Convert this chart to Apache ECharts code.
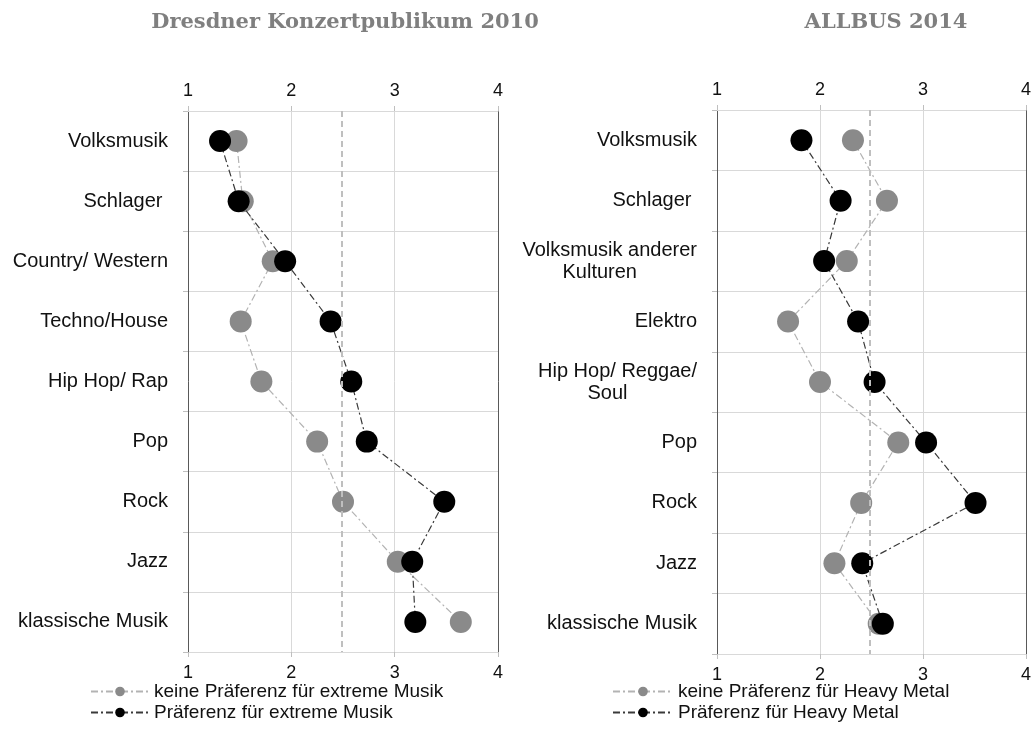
<!DOCTYPE html>
<html>
<head>
<meta charset="utf-8">
<script src="https://cdn.jsdelivr.net/npm/echarts@6/dist/echarts.min.js"></script>
<style>
html,body{margin:0;padding:0;background:#fff;}
#chart{width:1034px;height:731px;}
</style>
</head>
<body>
<div id="chart"></div>
<script>
// ---- data ----
const titleLeft = 'Dresdner Konzertpublikum 2010';
const titleRight = 'ALLBUS 2014';
const catsLeft = ['Volksmusik', 'Schlager ', 'Country/ Western', 'Techno/House', 'Hip Hop/ Rap', 'Pop', 'Rock', 'Jazz', 'klassische Musik'];
const leftNoPref = [1.47, 1.53, 1.82, 1.51, 1.71, 2.25, 2.50, 3.03, 3.64];
const leftPref = [1.31, 1.49, 1.94, 2.38, 2.58, 2.73, 3.48, 3.17, 3.20];
const catsRight = ['Volksmusik', 'Schlager ', 'Volksmusik anderer\nKulturen', 'Elektro', 'Hip Hop/ Reggae/\nSoul', 'Pop', 'Rock', 'Jazz', 'klassische Musik'];
const rightNoPref = [2.32, 2.65, 2.26, 1.69, 2.00, 2.76, 2.40, 2.14, 2.57];
const rightPref = [1.82, 2.20, 2.04, 2.37, 2.53, 3.03, 3.51, 2.41, 2.61];
const nameLeftNo = 'keine Präferenz für extreme Musik';
const nameLeftYes = 'Präferenz für extreme Musik';
const nameRightNo = 'keine Präferenz für Heavy Metal';
const nameRightYes = 'Präferenz für Heavy Metal';
const xMin = 1, xMax = 4, xStep = 1;
const refLeft = 2.49;
const refRight = 2.48;

// ---- styles ----
const FONT = 'Liberation Sans, Arial, sans-serif';
const GRID_C = '#d9d9d9';
const BORDER_C = '#595959';
const GRAY_M = '#8a8a8a';
const GRAY_L = '#b3b3b3';
const BLACK_M = '#000000';
const BLACK_L = '#3a3a3a';
const DASHDOT = [7, 3, 2, 3];

function pairs(vals) { return vals.map((v, i) => [v, i]); }

function xAxes(gi) {
  const base = {
    type: 'value', gridIndex: gi, min: xMin, max: xMax, interval: xStep,
    axisLine: { show: true, lineStyle: { color: GRID_C, width: 1 } },
    axisTick: { show: true, length: 5, lineStyle: { color: '#bfbfbf' } },
  };
  const lbl = (m) => ({ fontFamily: FONT, fontSize: 18, color: '#111', margin: m });
  return [
    Object.assign({}, base, { position: 'top', axisLabel: lbl(11), splitLine: { show: true, lineStyle: { color: GRID_C, width: 1 } } }),
    Object.assign({}, base, { position: 'bottom', axisLabel: lbl(12), splitLine: { show: false } })
  ];
}

function labelFmt(v) {
  if (v.indexOf('\n') >= 0) {
    const lines = v.split('\n');
    return lines.map((l, i) => (i === 0 ? '{c|' : '{d|') + l + '}').join('\n');
  }
  return v;
}

function yAxes(gi, cats) {
  return [
    {
      type: 'category', gridIndex: gi, data: cats, inverse: true, position: 'left',
      axisLine: { show: true, lineStyle: { color: BORDER_C, width: 1 } },
      axisTick: { show: true, length: 5, lineStyle: { color: '#bfbfbf' } },
      axisLabel: {
        interval: 0, fontFamily: FONT, fontSize: 20, color: '#111', margin: 20, formatter: labelFmt,
        lineHeight: 22,
        rich: {
          c: { fontFamily: FONT, fontSize: 20, color: '#111', align: 'center', lineHeight: 22 },
          d: { fontFamily: FONT, fontSize: 20, color: '#111', align: 'center', lineHeight: 22, padding: [0, 20, 0, 0] }
        }
      },
      splitLine: { show: true, lineStyle: { color: GRID_C, width: 1 } }
    },
    {
      type: 'category', gridIndex: gi, data: cats, inverse: true, position: 'right',
      axisLine: { show: true, lineStyle: { color: BORDER_C, width: 1 } },
      axisTick: { show: false }, axisLabel: { show: false }, splitLine: { show: false }
    }
  ];
}

function mkSeries(name, vals, xi, yi, mColor, lColor, z) {
  return {
    type: 'line', name: name, data: pairs(vals), xAxisIndex: xi, yAxisIndex: yi,
    symbol: 'circle', symbolSize: 22, showSymbol: true, z: z,
    itemStyle: { color: mColor, borderWidth: 0 },
    lineStyle: { color: lColor, width: 1.2, type: DASHDOT },
    emphasis: { disabled: true }
  };
}

function refLine(xi, yi, val) {
  return {
    type: 'line', name: 'ref' + xi, data: [], xAxisIndex: xi, yAxisIndex: yi, silent: true,
    markLine: {
      silent: true, symbol: ['none', 'none'], z: 10, animation: false,
      label: { show: false },
      lineStyle: { color: '#bfbfbf', width: 2, type: [6, 4] },
      data: [{ xAxis: val }]
    }
  };
}

const chart = echarts.init(document.getElementById('chart'), null, { renderer: 'canvas' });
const legendBase = {
  orient: 'vertical', top: 677, itemWidth: 58, itemHeight: 12, itemGap: 2,
  textStyle: { fontFamily: FONT, fontSize: 19, color: '#111', lineHeight: 19 },
  selectedMode: false
};
chart.setOption({
  animation: false,
  backgroundColor: '#ffffff',
  graphic: [
    { type: 'text', x: 345, y: 23, style: { text: titleLeft, fontFamily: 'DejaVu Serif, serif', fontWeight: 'bold', fontSize: 21, fill: '#7f7f7f', textAlign: 'center', textVerticalAlign: 'middle' } },
    { type: 'text', x: 886, y: 23, style: { text: titleRight, fontFamily: 'DejaVu Serif, serif', fontWeight: 'bold', fontSize: 21, fill: '#7f7f7f', textAlign: 'center', textVerticalAlign: 'middle' } }
  ],
  grid: [
    { left: 188, top: 111, width: 310, height: 541 },
    { left: 717, top: 110, width: 312, height: 544 }
  ],
  xAxis: xAxes(0).concat(xAxes(1)),
  yAxis: yAxes(0, catsLeft).concat(yAxes(1, catsRight)),
  legend: [
    Object.assign({}, legendBase, { left: 85, data: [nameLeftNo, nameLeftYes] }),
    Object.assign({}, legendBase, { left: 607, itemWidth: 60, data: [nameRightNo, nameRightYes] })
  ],
  series: [
    mkSeries(nameLeftNo, leftNoPref, 0, 0, GRAY_M, GRAY_L, 2),
    mkSeries(nameLeftYes, leftPref, 0, 0, BLACK_M, BLACK_L, 3),
    refLine(0, 0, refLeft),
    mkSeries(nameRightNo, rightNoPref, 2, 2, GRAY_M, GRAY_L, 2),
    mkSeries(nameRightYes, rightPref, 2, 2, BLACK_M, BLACK_L, 3),
    refLine(2, 2, refRight)
  ]
});
</script>
</body>
</html>
